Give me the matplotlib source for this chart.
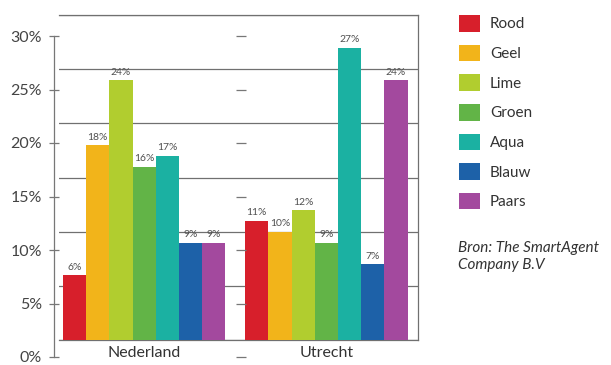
import numpy as np
import matplotlib.pyplot as plt
from matplotlib.ticker import MultipleLocator, FuncFormatter

plt.rcParams['font.family'] = ['Lato', 'DejaVu Sans']

# Share per colour preference, Nederland vs Utrecht (percent)
regions = ["Nederland", "Utrecht"]
colour_names = ["Rood", "Geel", "Lime", "Groen", "Aqua", "Blauw", "Paars"]
nederland = [6, 18, 24, 16, 17, 9, 9]
utrecht = [11, 10, 12, 9, 27, 7, 24]
bar_colours = ["#d71f2b", "#f2b41a", "#b1cd2f", "#62b447", "#1bb1a2", "#1d61a8", "#a3499e"]

W, H = 611, 365
line_grey = "#707070"
text_grey = "#444444"

fig = plt.figure(figsize=(W / 100, H / 100), dpi=100)

# plot frame with the bars
ax = fig.add_axes([59 / W, 25 / H, 359 / W, 325 / H])
group_step = 7.85
x_groups = np.arange(len(regions)) * group_step

handles = []
for j, name in enumerate(colour_names):
    vals = [nederland[j], utrecht[j]]
    bars = ax.bar(x_groups + j, vals, width=1.0, color=bar_colours[j],
                  label=name, zorder=3)
    ax.bar_label(bars, labels=[f"{v}%" for v in vals], padding=2.5,
                 fontsize=7.5, color="#505050")
    handles.append(bars)

ax.set_xlim(-0.67, 14.8)
ax.set_ylim(0, 30)
ax.yaxis.set_major_locator(MultipleLocator(5))
ax.grid(axis="y", color=line_grey, linewidth=0.9)
ax.set_axisbelow(True)
ax.tick_params(axis="y", left=False, labelleft=False)
ax.set_xticks(x_groups + 3)
ax.set_xticklabels(regions)
ax.tick_params(axis="x", length=0, pad=4, labelsize=11.5, labelcolor="#333333")
ax.spines["left"].set_visible(False)
for s in ["top", "right", "bottom"]:
    ax.spines[s].set_color(line_grey)
    ax.spines[s].set_linewidth(0.9)

# percentage scale drawn as a separate axis
sc = fig.add_axes([54 / W, 8 / H, 187 / W, 321 / H])
sc.set_facecolor("none")
sc.set_ylim(0, 30)
sc.set_xticks([])
for s in ["top", "bottom", "right"]:
    sc.spines[s].set_visible(False)
sc.spines["left"].set_color("#777777")
sc.spines["left"].set_linewidth(0.9)
sc.yaxis.set_major_locator(MultipleLocator(5))
sc.yaxis.set_major_formatter(FuncFormatter(lambda v, p: f"{v:.0f}%"))
sc.tick_params(axis="y", direction="inout", length=7, width=0.9,
               color="#777777", right=True, labelsize=11.5,
               labelcolor=text_grey, pad=5)

ax.legend(handles=handles, loc="upper left",
          bbox_to_anchor=(459 / W, 1 - 15 / H), bbox_transform=fig.transFigure,
          frameon=False, fontsize=11, labelcolor="#333333",
          handlelength=1.37, handleheight=1.3, handletextpad=0.65,
          labelspacing=0.85, borderpad=0, borderaxespad=0)

fig.text(458 / W, 1 - 241 / H, "Bron: The SmartAgent\nCompany B.V",
         style="italic", fontsize=11, color="#333333", va="top", ha="left",
         linespacing=1.25)

fig.savefig("out.png", dpi=100)
